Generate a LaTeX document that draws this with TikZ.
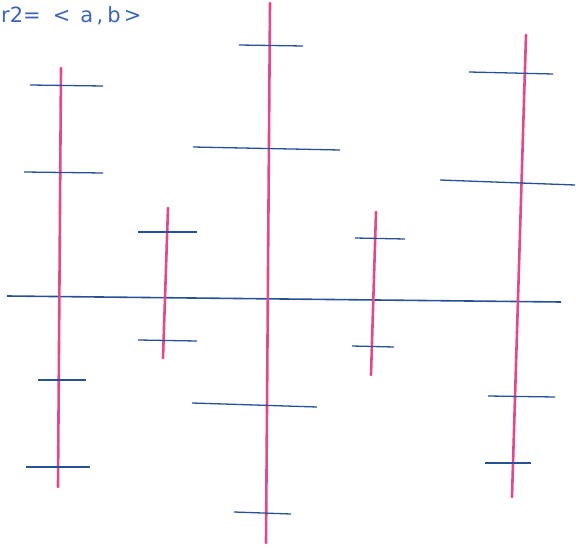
\documentclass[tikz,border=0pt]{standalone}
\usepackage{fontspec}
\setmainfont{DejaVu Sans}
\definecolor{pinkline}{RGB}{226,72,140}
\definecolor{blueline}{RGB}{40,80,150}
\definecolor{inkblue}{RGB}{60,100,185}
\begin{document}
\begin{tikzpicture}[x=1pt,y=-1pt,
  vline/.style={draw=pinkline,line width=2.6pt,line cap=round},
  tick/.style={draw=blueline,line width=1.3pt},
  axisline/.style={draw=blueline,line width=1.6pt}]
\useasboundingbox (0,0) rectangle (576,548);
% label
\node[anchor=west,inner sep=0pt,text=inkblue,font=\fontsize{21}{21}\selectfont] (lbl) at (1,16) {r2=\hspace{12pt}<\hspace{10pt}a\,,\hspace{4pt}b\hspace{3pt}>};
% axis
\coordinate (axL) at (7,296);
\coordinate (axR) at (561,302);
\draw[axisline] (axL) -- (axR);
% vertical lines
\coordinate (v1t) at (61,68);  \coordinate (v1b) at (58,487);
\coordinate (v2t) at (168,208); \coordinate (v2b) at (163,358);
\coordinate (v3t) at (270,3);  \coordinate (v3b) at (266,543);
\coordinate (v4t) at (376,212); \coordinate (v4b) at (371,375);
\coordinate (v5t) at (526,35); \coordinate (v5b) at (512,497);
\foreach \v in {1,...,5}{\draw[vline] (v\v t) -- (v\v b);}
% ticks line 1
\draw[tick] (30,85) -- (103,86);
\draw[tick] (24,172) -- (103,173);
\draw[tick] (38,380) -- (86,380);
\draw[tick] (26,467) -- (90,467);
% ticks line 2
\draw[tick] (138,232) -- (197,232);
\draw[tick] (138,340) -- (197,341);
% ticks line 3
\draw[tick] (239,45) -- (303,46);
\draw[tick] (193,147) -- (340,150);
\draw[tick] (192,403) -- (317,407);
\draw[tick] (234,512) -- (291,514);
% ticks line 4
\draw[tick] (355,238) -- (405,239);
\draw[tick] (352,346) -- (394,347);
% ticks line 5
\draw[tick] (469,72) -- (553,74);
\draw[tick] (440,180) -- (575,185);
\draw[tick] (488,396) -- (555,397);
\draw[tick] (485,463) -- (531,463);
\end{tikzpicture}
\end{document}
